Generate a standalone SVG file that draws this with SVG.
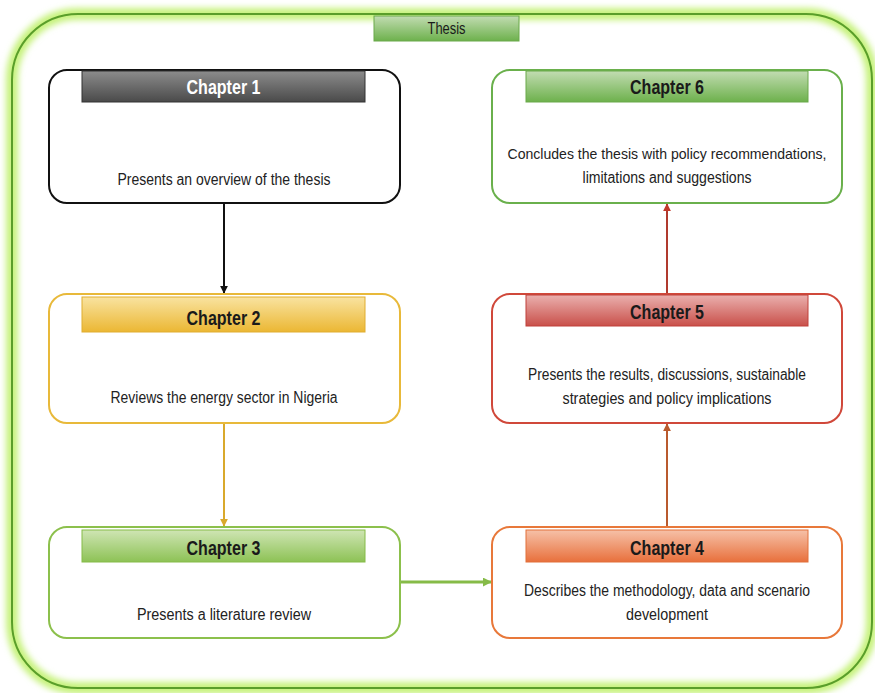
<svg xmlns="http://www.w3.org/2000/svg" width="875" height="693" viewBox="0 0 875 693">
<defs>
<linearGradient id="gGray" x1="0" y1="0" x2="0" y2="1"><stop offset="0" stop-color="#8c8c8c"/><stop offset="1" stop-color="#4a4a4a"/></linearGradient>
<linearGradient id="gGold" x1="0" y1="0" x2="0" y2="1"><stop offset="0" stop-color="#f9e3a0"/><stop offset="1" stop-color="#ebb733"/></linearGradient>
<linearGradient id="gGreen3" x1="0" y1="0" x2="0" y2="1"><stop offset="0" stop-color="#cfe5b4"/><stop offset="1" stop-color="#8dc255"/></linearGradient>
<linearGradient id="gOrange" x1="0" y1="0" x2="0" y2="1"><stop offset="0" stop-color="#f6c1a8"/><stop offset="1" stop-color="#e8703c"/></linearGradient>
<linearGradient id="gRed" x1="0" y1="0" x2="0" y2="1"><stop offset="0" stop-color="#eab0ae"/><stop offset="1" stop-color="#c9504a"/></linearGradient>
<linearGradient id="gGreen6" x1="0" y1="0" x2="0" y2="1"><stop offset="0" stop-color="#c2dcb2"/><stop offset="1" stop-color="#6db14c"/></linearGradient>
<filter id="glow" x="-5%" y="-5%" width="110%" height="110%"><feGaussianBlur stdDeviation="3"/></filter>
<marker id="aBlack" viewBox="0 0 10 10" refX="9" refY="5" markerWidth="4" markerHeight="4" orient="auto"><path d="M0,0 L10,5 L0,10 z" fill="#111"/></marker>
<marker id="aGold" viewBox="0 0 10 10" refX="9" refY="5" markerWidth="4" markerHeight="4" orient="auto"><path d="M0,0 L10,5 L0,10 z" fill="#d9a92c"/></marker>
<marker id="aGreen" viewBox="0 0 10 10" refX="9" refY="5" markerWidth="3" markerHeight="3" orient="auto"><path d="M0,0 L10,5 L0,10 z" fill="#86bb48"/></marker>
<marker id="aOrange" viewBox="0 0 10 10" refX="9" refY="5" markerWidth="4" markerHeight="4" orient="auto"><path d="M0,0 L10,5 L0,10 z" fill="#b95a2e"/></marker>
<marker id="aRed" viewBox="0 0 10 10" refX="9" refY="5" markerWidth="4" markerHeight="4" orient="auto"><path d="M0,0 L10,5 L0,10 z" fill="#c0392b"/></marker>
</defs>
<style>
.box{fill:#fff;stroke-width:2}
.hdr{stroke-width:1}
.title{font-family:"Liberation Sans",Arial,sans-serif;font-size:21px;font-weight:bold;text-anchor:middle;fill:#1a1a1a}
.body{font-family:"Liberation Sans",Arial,sans-serif;font-size:16px;text-anchor:middle;fill:#222}
.sm{font-size:15px}
</style>
<rect width="875" height="693" fill="#fff"/>
<g id="frame">
<rect x="12" y="14" width="860" height="674" rx="66" fill="none" stroke="#c6f27c" stroke-width="12" filter="url(#glow)"/>
<rect x="12" y="14" width="860" height="674" rx="66" fill="none" stroke="#5a9e2a" stroke-width="2"/>
</g>
<g id="thesis">
<rect x="374" y="16" width="145" height="25" fill="url(#gGreen6)" stroke="#6aa94a" stroke-width="1"/>
<text x="446.5" y="34" font-family="Liberation Sans,Arial,sans-serif" font-size="16" text-anchor="middle" fill="#1a1a1a" textLength="38" lengthAdjust="spacingAndGlyphs">Thesis</text>
</g>
<g id="connectors">
<line x1="224" y1="203" x2="224" y2="293" stroke="#111" stroke-width="2" marker-end="url(#aBlack)"/>
<line x1="224" y1="423" x2="224" y2="526" stroke="#d9a92c" stroke-width="2" marker-end="url(#aGold)"/>
<line x1="400" y1="582" x2="491" y2="582" stroke="#86bb48" stroke-width="3" marker-end="url(#aGreen)"/>
<line x1="667" y1="527" x2="667" y2="424" stroke="#b95a2e" stroke-width="2" marker-end="url(#aOrange)"/>
<line x1="667" y1="294" x2="667" y2="204" stroke="#b03a2e" stroke-width="2" marker-end="url(#aRed)"/>
</g>
<g id="chapter1">
<rect class="box" x="49" y="70" width="351" height="133" rx="18" stroke="#111"/>
<rect class="hdr" x="82" y="71" width="283" height="31" fill="url(#gGray)" stroke="#333"/>
<text class="title" x="223.5" y="94" style="fill:#fff" textLength="74" lengthAdjust="spacingAndGlyphs">Chapter 1</text>
<text class="body" x="224" y="185" textLength="213" lengthAdjust="spacingAndGlyphs">Presents an overview of the thesis</text>
</g>
<g id="chapter2">
<rect class="box" x="49" y="294" width="351" height="129" rx="18" stroke="#e8b93a"/>
<rect class="hdr" x="82" y="297" width="283" height="35" fill="url(#gGold)" stroke="#e0ad30"/>
<text class="title" x="223.5" y="325" textLength="74" lengthAdjust="spacingAndGlyphs">Chapter 2</text>
<text class="body" x="224" y="403" textLength="227" lengthAdjust="spacingAndGlyphs">Reviews the energy sector in Nigeria</text>
</g>
<g id="chapter3">
<rect class="box" x="49" y="527" width="351" height="111" rx="18" stroke="#8cc04c"/>
<rect class="hdr" x="82" y="530" width="283" height="32" fill="url(#gGreen3)" stroke="#86bb48"/>
<text class="title" x="223.5" y="555" textLength="74" lengthAdjust="spacingAndGlyphs">Chapter 3</text>
<text class="body" x="224" y="620" textLength="174" lengthAdjust="spacingAndGlyphs">Presents a literature review</text>
</g>
<g id="chapter4">
<rect class="box" x="492" y="527" width="350" height="111" rx="18" stroke="#e8783a"/>
<rect class="hdr" x="526" y="530" width="282" height="32" fill="url(#gOrange)" stroke="#e2703a"/>
<text class="title" x="667" y="555" textLength="74" lengthAdjust="spacingAndGlyphs">Chapter 4</text>
<text class="body" x="667" y="596" textLength="286" lengthAdjust="spacingAndGlyphs">Describes the methodology, data and scenario</text>
<text class="body" x="667" y="620" textLength="82" lengthAdjust="spacingAndGlyphs">development</text>
</g>
<g id="chapter5">
<rect class="box" x="492" y="294" width="350" height="129" rx="18" stroke="#d0483a"/>
<rect class="hdr" x="526" y="295" width="282" height="31" fill="url(#gRed)" stroke="#c0403a"/>
<text class="title" x="667" y="319" textLength="74" lengthAdjust="spacingAndGlyphs">Chapter 5</text>
<text class="body" x="667" y="380" textLength="278" lengthAdjust="spacingAndGlyphs">Presents the results, discussions, sustainable</text>
<text class="body" x="667" y="404" textLength="209" lengthAdjust="spacingAndGlyphs">strategies and policy implications</text>
</g>
<g id="chapter6">
<rect class="box" x="492" y="70" width="350" height="133" rx="18" stroke="#6ab04c"/>
<rect class="hdr" x="526" y="71" width="282" height="31" fill="url(#gGreen6)" stroke="#6aa94a"/>
<text class="title" x="667" y="94" textLength="74" lengthAdjust="spacingAndGlyphs">Chapter 6</text>
<text class="body sm" x="667" y="159" textLength="319" lengthAdjust="spacingAndGlyphs">Concludes the thesis with policy recommendations,</text>
<text class="body" x="667" y="183" textLength="169" lengthAdjust="spacingAndGlyphs">limitations and suggestions</text>
</g>
</svg>
